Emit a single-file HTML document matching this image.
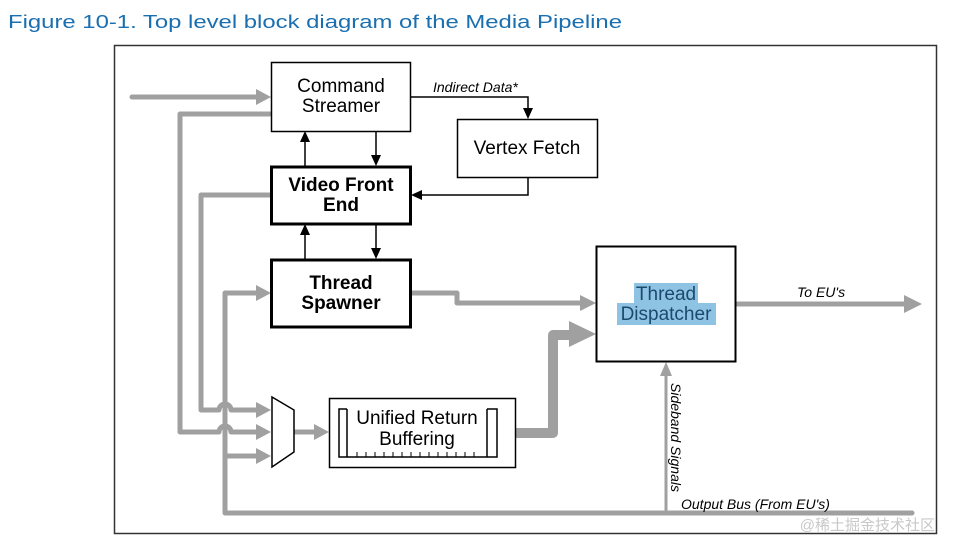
<!DOCTYPE html>
<html><head><meta charset="utf-8"><style>
html,body{margin:0;padding:0;background:#fff;}
svg{display:block;}
text{font-family:"Liberation Sans",Arial,Helvetica,sans-serif;}
</style></head><body>
<svg width="953" height="554" viewBox="0 0 953 554" xmlns="http://www.w3.org/2000/svg" font-family="Liberation Sans, Arial, Helvetica, sans-serif">
<text x="8" y="28" font-size="18" fill="#1a6fb0" textLength="614" lengthAdjust="spacingAndGlyphs" font-family="DejaVu Sans, sans-serif">Figure 10-1. Top level block diagram of the Media Pipeline</text>
<rect x="114.5" y="45.5" width="822" height="488" fill="none" stroke="#333" stroke-width="1.5"/>

<g fill="none" stroke="#a0a0a0" stroke-width="5" stroke-linejoin="round" stroke-linecap="round">
<line x1="132" y1="97" x2="258" y2="97"/>
<path d="M270,114 H180 V432 H219 a6,6 0 0 1 12,0 H258"/>
<path d="M270,195 H201 V410 H219 a6,6 0 0 1 12,0 H258"/>
<path d="M912,513 H225 V293 H258"/>
<path d="M225,456 H258"/>
<path d="M295,432 H316"/>
<path d="M412,293 H457 V303 H582"/>
<path d="M737,304 H906"/>
</g>
<g fill="#a0a0a0">
<path d="M271,97 L256,89 L256,105 Z"/>
<path d="M271,432 L256,424 L256,440 Z"/>
<path d="M271,410 L256,402 L256,418 Z"/>
<path d="M271,456 L256,448 L256,464 Z"/>
<path d="M271,293 L256,285 L256,301 Z"/>
<path d="M329,432 L314,424 L314,440 Z"/>
<path d="M596,303 L580,295 L580,311 Z"/>
<path d="M922,304 L904,295 L904,313 Z"/>
<path d="M596,334 L569,321 L569,347 Z"/>
</g>
<path d="M515,433 H553 V335 H572" fill="none" stroke="#a0a0a0" stroke-width="10" stroke-linejoin="round" stroke-linecap="round"/>
<line x1="666" y1="513" x2="666" y2="372" stroke="#a0a0a0" stroke-width="3"/>
<path d="M666,362 L660,376 L672,376 Z" fill="#a0a0a0"/>

<g fill="none" stroke="#000" stroke-width="1.5">
<line x1="376" y1="131" x2="376" y2="158"/>
<line x1="305" y1="166" x2="305" y2="140"/>
<line x1="376" y1="224" x2="376" y2="251"/>
<line x1="305" y1="259" x2="305" y2="233"/>
<path d="M410,97 H528 V110"/>
<path d="M528,177 V195 H420"/>
</g>
<g fill="#000">
<path d="M376,166 L371,155 L381,155 Z"/>
<path d="M305,131 L300,142 L310,142 Z"/>
<path d="M376,259 L371,248 L381,248 Z"/>
<path d="M305,224 L300,235 L310,235 Z"/>
<path d="M528,119 L523,108 L533,108 Z"/>
<path d="M411,195 L422,190 L422,200 Z"/>
</g>

<rect x="271.5" y="62.5" width="139" height="69" fill="#fff" stroke="#000" stroke-width="1.5"/>
<text x="341" y="92" font-size="19" text-anchor="middle">Command</text>
<text x="341" y="112" font-size="19" text-anchor="middle">Streamer</text>

<rect x="457.5" y="119.5" width="140" height="58" fill="#fff" stroke="#000" stroke-width="1.5"/>
<text x="527" y="154" font-size="19" text-anchor="middle">Vertex Fetch</text>

<rect x="271.5" y="167" width="139" height="57" fill="#fff" stroke="#000" stroke-width="3"/>
<text x="341" y="191" font-size="19" font-weight="bold" text-anchor="middle">Video Front</text>
<text x="341" y="211" font-size="19" font-weight="bold" text-anchor="middle">End</text>

<rect x="271.5" y="260" width="139" height="67" fill="#fff" stroke="#000" stroke-width="3"/>
<text x="341" y="289" font-size="19" font-weight="bold" text-anchor="middle">Thread</text>
<text x="341" y="309" font-size="19" font-weight="bold" text-anchor="middle">Spawner</text>

<text x="433" y="92" font-size="14" font-style="italic">Indirect Data*</text>

<rect x="596.5" y="246.5" width="139" height="115" fill="#fff" stroke="#000" stroke-width="2"/>
<rect x="634" y="283" width="64" height="21" fill="#8ec3e3"/>
<rect x="617" y="303" width="99" height="22" fill="#8ec3e3"/>
<text x="666" y="300" font-size="19" text-anchor="middle" fill="#1b4a6e">Thread</text>
<text x="666" y="320" font-size="19" text-anchor="middle" fill="#1b4a6e">Dispatcher</text>

<text x="797" y="297" font-size="14" font-style="italic">To EU's</text>
<text x="681" y="509" font-size="14" font-style="italic">Output Bus (From EU's)</text>
<text transform="translate(671,383) rotate(90)" font-size="14" font-style="italic">Sideband Signals</text>

<path d="M272,397 L294,410 L294,452 L272,467 Z" fill="#fff" stroke="#000" stroke-width="1.5"/>

<rect x="329.5" y="398.5" width="186" height="69" fill="#fff" stroke="#000" stroke-width="1.5"/>
<path d="M347,409 H339 V457 H497 V409 H487" fill="none" stroke="#000" stroke-width="1.5"/>
<line x1="347" y1="409" x2="347" y2="457" stroke="#000" stroke-width="1.5"/>
<line x1="487" y1="409" x2="487" y2="457" stroke="#000" stroke-width="1.5"/>
<path d="M357,457v-5M366,457v-5M375,457v-5M384,457v-5M393,457v-5M402,457v-5M411,457v-5M420,457v-5M429,457v-5M438,457v-5M447,457v-5M456,457v-5M465,457v-5M474,457v-5" stroke="#000" stroke-width="1"/>
<text x="417" y="424" font-size="19" text-anchor="middle">Unified Return</text>
<text x="417" y="445" font-size="19" text-anchor="middle">Buffering</text>

<text x="935" y="530" font-size="15" text-anchor="end" fill="#c8c8c8" font-family="Liberation Sans, Noto Sans CJK SC, sans-serif">@稀土掘金技术社区</text>
</svg>
</body></html>
